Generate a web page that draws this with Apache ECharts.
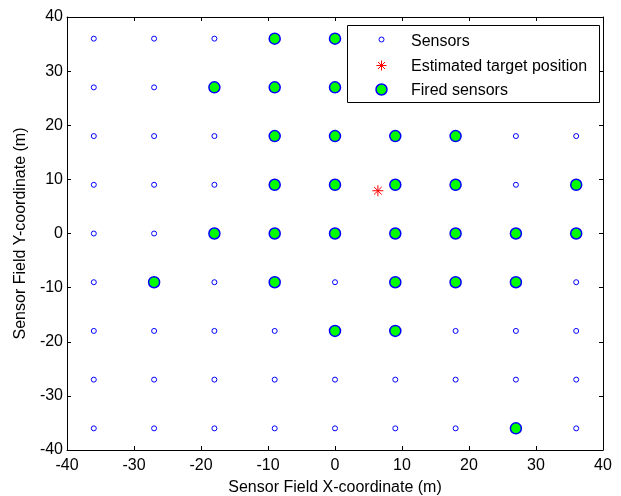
<!DOCTYPE html>
<html>
<head>
<meta charset="utf-8">
<script src="https://cdn.jsdelivr.net/npm/echarts@6/dist/echarts.min.js"></script>
<style>html,body{margin:0;padding:0;background:#fff}#c{width:621px;height:496px}</style>
</head>
<body>
<div id="c"></div>
<script>
var xTicks = [-40, -30, -20, -10, 0, 10, 20, 30, 40];
var yTicks = [-40, -30, -20, -10, 0, 10, 20, 30, 40];
var sensors = [
  [-36,36],[-27,36],[-18,36],[-9,36],[0,36],[9,36],[18,36],[27,36],[36,36],
  [-36,27],[-27,27],[-18,27],[-9,27],[0,27],[9,27],[18,27],[27,27],[36,27],
  [-36,18],[-27,18],[-18,18],[-9,18],[0,18],[9,18],[18,18],[27,18],[36,18],
  [-36,9],[-27,9],[-18,9],[-9,9],[0,9],[9,9],[18,9],[27,9],[36,9],
  [-36,0],[-27,0],[-18,0],[-9,0],[0,0],[9,0],[18,0],[27,0],[36,0],
  [-36,-9],[-27,-9],[-18,-9],[-9,-9],[0,-9],[9,-9],[18,-9],[27,-9],[36,-9],
  [-36,-18],[-27,-18],[-18,-18],[-9,-18],[0,-18],[9,-18],[18,-18],[27,-18],[36,-18],
  [-36,-27],[-27,-27],[-18,-27],[-9,-27],[0,-27],[9,-27],[18,-27],[27,-27],[36,-27],
  [-36,-36],[-27,-36],[-18,-36],[-9,-36],[0,-36],[9,-36],[18,-36],[27,-36],[36,-36]
];
var target = [[6.4, 7.9]];
var fired = [
  [-9,36],[0,36],
  [-18,27],[-9,27],[0,27],
  [-9,18],[0,18],[9,18],[18,18],
  [-9,9],[0,9],[9,9],[18,9],[36,9],
  [-18,0],[-9,0],[0,0],[9,0],[18,0],[27,0],[36,0],
  [-27,-9],[-9,-9],[9,-9],[18,-9],[27,-9],
  [0,-18],[9,-18],
  [27,-36]
];
var names = ['Sensors', 'Estimated target position', 'Fired sensors'];
var xTitle = 'Sensor Field X-coordinate (m)';
var yTitle = 'Sensor Field Y-coordinate (m)';

var font = 'Liberation Sans, Arial, sans-serif';
var starPath = 'M0,5L10,5M5,0L5,10M1.5,1.5L8.5,8.5M8.5,1.5L1.5,8.5';
var chart = echarts.init(document.getElementById('c'), null, {renderer: 'canvas'});

function axisCommon(showLabel, margin) {
  return {
    min: -40, max: 40, interval: 10,
    axisLine: {show: true, onZero: false, lineStyle: {color: '#000', width: 1}},
    axisTick: {show: true, inside: true, length: 4, lineStyle: {color: '#000'}},
    axisLabel: {show: showLabel, color: '#000', fontSize: 16, fontFamily: font, margin: margin},
    splitLine: {show: false}
  };
}
var xb = axisCommon(true, 8);
xb.type = 'value'; xb.position = 'bottom';
xb.name = xTitle; xb.nameLocation = 'middle'; xb.nameGap = 30;
xb.nameTextStyle = {color: '#000', fontSize: 16, fontFamily: font};
var xt = axisCommon(false, 7); xt.type = 'value'; xt.position = 'top';
var yl = axisCommon(true, 4);
yl.type = 'value'; yl.position = 'left';
yl.name = yTitle; yl.nameLocation = 'middle'; yl.nameGap = 28;
yl.nameTextStyle = {color: '#000', fontSize: 16, fontFamily: font};
var yr = axisCommon(false, 4); yr.type = 'value'; yr.position = 'right';

var legX = 381.5, textX = 411;
var legY = [39.5, 65.5, 89.5];
function txt(t, y) {
  return {type: 'text', z: 11, silent: true, x: textX, y: y,
    style: {text: t, fill: '#000', font: '16px ' + font, verticalAlign: 'middle', align: 'left'}};
}
function seg(x1, y1, x2, y2) {
  return {type: 'line', z: 11, silent: true,
    shape: {x1: x1, y1: y1, x2: x2, y2: y2},
    style: {stroke: '#ff0000', lineWidth: 1}};
}
var sy = legY[1];

chart.setOption({
  animation: false,
  backgroundColor: '#fff',
  grid: {left: 67, right: 18, top: 17, bottom: 46, containLabel: false, outerBoundsMode: 'none'},
  xAxis: [xb, xt],
  yAxis: [yl, yr],
  graphic: [
    {type: 'rect', z: 10, silent: true,
     shape: {x: 347.5, y: 25.5, width: 252, height: 77},
     style: {fill: '#fff', stroke: '#000', lineWidth: 1}},
    {type: 'circle', z: 11, silent: true, shape: {cx: legX, cy: legY[0], r: 2.5},
     style: {fill: '#fff', stroke: '#0000ff', lineWidth: 1}},
    seg(legX - 5, sy, legX + 5, sy),
    seg(legX, sy - 5, legX, sy + 5),
    seg(legX - 3.5, sy - 3.5, legX + 3.5, sy + 3.5),
    seg(legX + 3.5, sy - 3.5, legX - 3.5, sy + 3.5),
    {type: 'circle', z: 11, silent: true, shape: {cx: legX, cy: legY[2], r: 5.5},
     style: {fill: '#00ff00', stroke: '#0000ff', lineWidth: 1.5}},
    txt(names[0], legY[0] + 2),
    txt(names[1], legY[1] + 1),
    txt(names[2], legY[2] + 1)
  ],
  series: [
    {
      name: names[0], type: 'scatter', data: sensors, symbol: 'circle', symbolSize: 5,
      itemStyle: {color: '#fff', borderColor: '#0000ff', borderWidth: 1, opacity: 1}, z: 2
    },
    {
      name: names[1], type: 'scatter', data: target, symbol: 'path://' + starPath, symbolSize: 11,
      itemStyle: {color: 'none', borderColor: '#ff0000', borderWidth: 1, opacity: 1}, z: 3
    },
    {
      name: names[2], type: 'scatter', data: fired, symbol: 'circle', symbolSize: 11,
      itemStyle: {color: '#00ff00', borderColor: '#0000ff', borderWidth: 1.5, opacity: 1}, z: 3
    }
  ]
});
</script>
</body>
</html>
